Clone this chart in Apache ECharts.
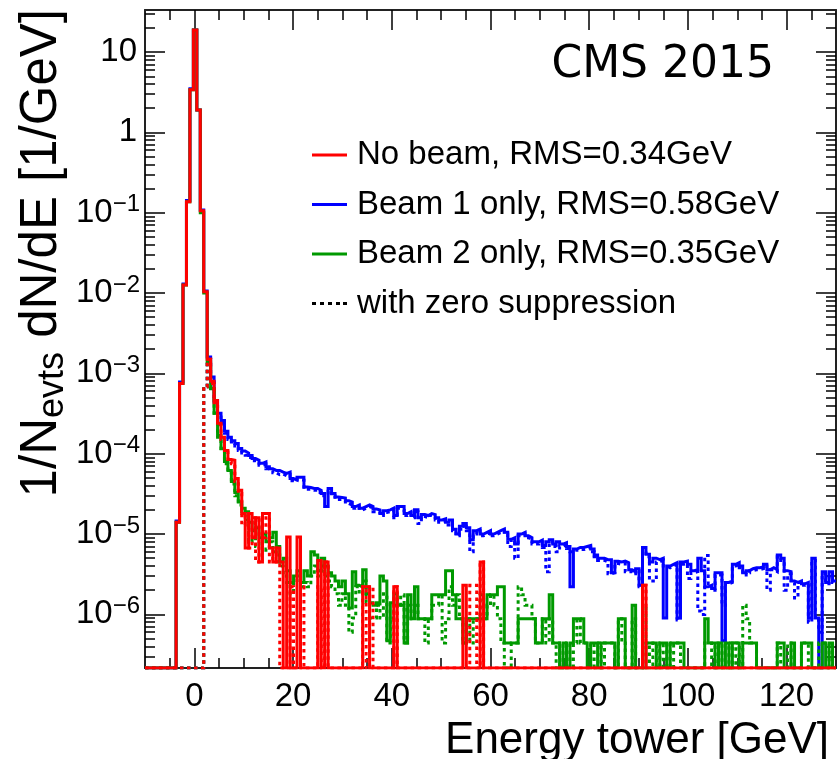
<!DOCTYPE html>
<html lang="en">
<head>
<meta charset="utf-8">
<title>CMS 2015 energy tower spectrum</title>
<script src="https://cdn.jsdelivr.net/npm/echarts@6.0.0/dist/echarts.min.js"></script>
<style>
  html, body { margin: 0; padding: 0; background: #fff; }
  #chart { width: 837px; height: 759px; }
</style>
</head>
<body>
<div id="chart"></div>
<script>
// histogram binning: 200 bins of 0.7 GeV from -10 to 130 GeV
const BIN_LO = -10
const BIN_W = 0.7
const N_BINS = 200

const X_MIN = -10
const X_MAX = 130
const Y_MIN = 2.15e-7
const Y_MAX = 33.4

const xMajorTicks = [0, 20, 40, 60, 80, 100, 120]
const xMinorTicks = [-5, 5, 10, 15, 25, 30, 35, 45, 50, 55, 65, 70, 75, 85, 90, 95, 105, 110, 115, 125]
const yExponents = [-6, -5, -4, -3, -2, -1, 0, 1]

const legendNames = [
  'No beam, RMS=0.34GeV',
  'Beam 1 only, RMS=0.58GeV',
  'Beam 2 only, RMS=0.35GeV',
  'with zero suppression'
]

// 1/N dN/dE per bin (0 = empty bin)
const noBeam = [
  0, 0, 0, 0, 0, 0, 0, 0, 0, 1.4e-5,
  7.5e-4, 1.26e-2, 0.137, 3.4, 18.8, 1.9, 0.106, 1.04e-2, 1.5e-3, 8e-4,
  4.6e-4, 2.4e-4, 1.6e-4, 1.1e-4, 8.5e-5, 8.3e-5, 4.9e-5, 3.5e-5, 1.8e-5, 6.7e-6,
  1.8e-5, 9e-6, 1.6e-5, 4.5e-6, 1.8e-5, 1.8e-5, 6.7e-6, 4.5e-6, 6.7e-6, 4.5e-6,
  0, 9.2e-6, 0, 0, 9.2e-6, 0, 0, 0, 0, 0,
  4.7e-6, 0, 4.5e-6, 0, 0, 0, 0, 0, 0, 0,
  0, 0, 0, 2.2e-6, 2.2e-6, 0, 0, 0, 0, 0,
  0, 0, 2.2e-6, 0, 0, 0, 0, 0, 0, 0,
  0, 0, 0, 0, 0, 0, 0, 0, 0, 0,
  0, 0, 2.3e-6, 0, 0, 0, 0, 4.5e-6, 0, 0,
  0, 0, 0, 0, 0, 0, 0, 0, 0, 0,
  0, 0, 0, 0, 0, 0, 0, 0, 0, 0,
  0, 0, 0, 0, 0, 0, 0, 0, 0, 0,
  0, 0, 0, 0, 0, 0, 0, 0, 0, 0,
  0, 0, 0, 0, 2.3e-6, 0, 0, 0, 0, 0,
  0, 0, 0, 0, 0, 0, 0, 0, 0, 0,
  0, 0, 0, 0, 0, 0, 0, 0, 0, 0,
  0, 0, 0, 0, 0, 0, 0, 0, 0, 0,
  0, 0, 0, 0, 0, 0, 0, 0, 0, 0,
  0, 0, 0, 0, 0, 0, 0, 0, 0, 0
]

const noBeamZS = [
  0, 0, 0, 0, 0, 0, 0, 0, 0, 0,
  0, 0, 0, 0, 0, 0, 0, 6.8e-4, 1.5e-3, 7.5e-4,
  4.3e-4, 2.3e-4, 1.5e-4, 1.05e-4, 8e-5, 7.5e-5, 4.5e-5, 3.2e-5, 1.3e-5, 1.8e-5,
  6.7e-6, 1.6e-5, 4.5e-6, 1.6e-5, 9e-6, 1.8e-5, 4.5e-6, 6.7e-6, 4.5e-6, 0,
  0, 0, 2.2e-6, 0, 0, 2.2e-6, 0, 0, 0, 0,
  2.2e-6, 0, 4.5e-6, 0, 0, 0, 0, 0, 0, 0,
  0, 0, 0, 2.2e-6, 0, 2.2e-6, 0, 0, 0, 0,
  0, 0, 2.2e-6, 0, 0, 0, 0, 0, 0, 0,
  0, 0, 0, 0, 0, 0, 0, 0, 0, 0,
  0, 0, 0, 0, 2.3e-6, 2.3e-6, 0, 4.5e-6, 0, 0,
  0, 0, 0, 0, 0, 0, 0, 0, 0, 0,
  0, 0, 0, 0, 0, 0, 0, 0, 0, 0,
  0, 0, 0, 0, 0, 0, 0, 0, 0, 0,
  0, 0, 0, 0, 0, 0, 0, 0, 0, 0,
  0, 0, 0, 0, 2.3e-6, 0, 0, 0, 0, 0,
  0, 0, 0, 0, 0, 0, 0, 0, 0, 0,
  0, 0, 0, 0, 0, 0, 0, 0, 0, 0,
  0, 0, 0, 0, 0, 0, 0, 0, 0, 0,
  0, 0, 0, 0, 0, 0, 0, 0, 0, 0,
  0, 0, 0, 0, 0, 0, 0, 0, 0, 0
]

const beam1 = [
  0, 0, 0, 0, 0, 0, 0, 0, 0, 1.45e-5,
  7.8e-4, 1.3e-2, 0.142, 3.5, 18.8, 1.9, 0.108, 1.06e-2, 1.6e-3, 9e-4,
  4.6e-4, 3.2e-4, 2.6e-4, 1.9e-4, 1.6e-4, 1.45e-4, 1.34e-4, 1.16e-4, 1.08e-4, 1.02e-4,
  9.5e-5, 8.7e-5, 8.3e-5, 7.6e-5, 7.9e-5, 6.9e-5, 6.5e-5, 6.2e-5, 6.2e-5, 5.9e-5,
  5.7e-5, 5.9e-5, 4.9e-5, 4.7e-5, 5.1e-5, 5.1e-5, 3.85e-5, 3.8e-5, 3.7e-5, 3.7e-5,
  3.5e-5, 3.2e-5, 2.2e-5, 3.7e-5, 3.2e-5, 2.9e-5, 2.85e-5, 2.8e-5, 2.6e-5, 2.5e-5,
  2.2e-5, 2.3e-5, 2.1e-5, 2.2e-5, 2.3e-5, 2.2e-5, 2.05e-5, 2e-5, 1.8e-5, 1.95e-5,
  2e-5, 2.1e-5, 1.7e-5, 2.2e-5, 2.2e-5, 1.8e-5, 1.9e-5, 1.7e-5, 2e-5, 1.6e-5,
  1.75e-5, 1.7e-5, 1.8e-5, 1.75e-5, 1.6e-5, 1.5e-5, 1.55e-5, 1.4e-5, 1.5e-5, 1.15e-5,
  1e-5, 1.25e-5, 1.35e-5, 1.2e-5, 8.5e-6, 1.1e-5, 1.15e-5, 1e-5, 1.05e-5, 1.1e-5,
  1e-5, 1.05e-5, 1.1e-5, 1.15e-5, 1.05e-5, 8.6e-6, 9e-6, 7.5e-6, 1e-5, 1.05e-5,
  9.5e-6, 9e-6, 8e-6, 8e-6, 8.4e-6, 7.2e-6, 8e-6, 8.5e-6, 7.5e-6, 8e-6,
  7.5e-6, 7.8e-6, 7e-6, 2.2e-6, 6.5e-6, 6.8e-6, 6.8e-6, 7e-6, 7.2e-6, 6.5e-6,
  5.5e-6, 5e-6, 5e-6, 4.8e-6, 4.8e-6, 3.3e-6, 4.6e-6, 4.5e-6, 4.6e-6, 4.4e-6,
  3.6e-6, 3.4e-6, 3.7e-6, 2.3e-6, 6.8e-6, 5.6e-6, 4.5e-6, 5e-6, 4.8e-6, 5e-6,
  9e-7, 4e-6, 4.2e-6, 4.4e-6, 9e-7, 4.5e-6, 4.6e-6, 4.2e-6, 3.5e-6, 3.6e-6,
  5e-6, 3.5e-6, 2.2e-6, 2.3e-6, 2.1e-6, 3.3e-6, 3.3e-6, 4.7e-7, 2.5e-6, 2.6e-6,
  4.2e-6, 4.4e-6, 4e-6, 3.3e-6, 3.5e-6, 3.7e-6, 3.8e-6, 3.8e-6, 3.9e-6, 4.2e-6,
  3.6e-6, 3.8e-6, 3.6e-6, 5.5e-6, 5e-6, 3.5e-6, 3.4e-6, 2.6e-6, 2.5e-6, 2.6e-6,
  2.4e-6, 2.5e-6, 9e-7, 5e-6, 9e-7, 0, 3.4e-6, 2.5e-6, 3.4e-6, 2.6e-6
]

const beam1ZS = [
  0, 0, 0, 0, 0, 0, 0, 0, 0, 0,
  0, 0, 0, 0, 0, 0, 0, 6.8e-4, 1.5e-3, 8.5e-4,
  4.4e-4, 3e-4, 2.4e-4, 1.8e-4, 1.5e-4, 1.4e-4, 1.25e-4, 1.1e-4, 1.02e-4, 9.6e-5,
  9e-5, 8.2e-5, 7.9e-5, 7.2e-5, 7.4e-5, 6.5e-5, 6.2e-5, 5.8e-5, 5.5e-5, 5.6e-5,
  5.3e-5, 5.5e-5, 4.6e-5, 4.5e-5, 4.8e-5, 4.7e-5, 3.6e-5, 3.6e-5, 3.5e-5, 3.5e-5,
  3.3e-5, 3e-5, 3e-5, 3.4e-5, 3e-5, 2.7e-5, 2.7e-5, 2.6e-5, 2.4e-5, 2.3e-5,
  2.1e-5, 2.2e-5, 2e-5, 2.1e-5, 2.2e-5, 2.1e-5, 1.9e-5, 1.9e-5, 1.7e-5, 1.85e-5,
  1.9e-5, 2e-5, 1.6e-5, 2.1e-5, 2e-5, 1.7e-5, 1.8e-5, 1.6e-5, 1.9e-5, 1.35e-5,
  1.65e-5, 1.6e-5, 1.7e-5, 1.65e-5, 1.5e-5, 1.4e-5, 1.45e-5, 1.3e-5, 1.4e-5, 1.1e-5,
  9.5e-6, 1.15e-5, 1.25e-5, 1.1e-5, 6e-6, 1e-5, 1.1e-5, 9.5e-6, 1e-5, 1.05e-5,
  9.5e-6, 1e-5, 1.05e-5, 1.1e-5, 1e-5, 7e-6, 8.5e-6, 5e-6, 9.5e-6, 1e-5,
  9e-6, 8.5e-6, 7.5e-6, 7.5e-6, 8e-6, 6.8e-6, 3.4e-6, 8e-6, 7e-6, 6e-6,
  7e-6, 7.4e-6, 6.6e-6, 6e-6, 6e-6, 6.4e-6, 6.4e-6, 6.6e-6, 6.8e-6, 6e-6,
  5.2e-6, 4.7e-6, 4.7e-6, 4.5e-6, 3.2e-6, 3.3e-6, 4.3e-6, 4.2e-6, 4.3e-6, 3.4e-6,
  3.4e-6, 3.2e-6, 3.5e-6, 2.2e-6, 6.4e-6, 5.2e-6, 2.6e-6, 2.6e-6, 4.5e-6, 4.7e-6,
  4e-6, 3.8e-6, 4e-6, 4.2e-6, 8.5e-7, 4.2e-6, 4.3e-6, 2.8e-6, 3.3e-6, 3.4e-6,
  1.1e-6, 1e-6, 5.4e-6, 2.2e-6, 2e-6, 3.1e-6, 3.1e-6, 1.3e-6, 2.4e-6, 2.5e-6,
  4e-6, 4.2e-6, 3.8e-6, 3.1e-6, 3.3e-6, 3.5e-6, 3.6e-6, 3.6e-6, 3.7e-6, 4e-6,
  2e-6, 3.6e-6, 3.4e-6, 5.2e-6, 4.7e-6, 2e-6, 3.2e-6, 2.5e-6, 1.6e-6, 2.5e-6,
  2.3e-6, 2.4e-6, 8e-7, 4.7e-6, 8.5e-7, 6e-7, 3.2e-6, 2.4e-6, 3.2e-6, 2.5e-6
]

const beam2 = [
  0, 0, 0, 0, 0, 0, 0, 0, 0, 1.4e-5,
  7.5e-4, 1.26e-2, 0.137, 3.4, 18.8, 1.9, 0.1, 1e-2, 1.4e-3, 6.5e-4,
  3.2e-4, 1.7e-4, 1.15e-4, 8e-5, 6.2e-5, 4.5e-5, 3.3e-5, 2.5e-5, 2.1e-5, 1.9e-5,
  1.4e-5, 1.1e-5, 1.2e-5, 9e-6, 1e-5, 8e-6, 9e-6, 1.05e-5, 7e-6, 4.5e-6,
  5e-6, 3.5e-6, 2.5e-6, 3e-6, 3.5e-6, 2.5e-6, 3.5e-6, 3e-6, 6e-6, 5.5e-6,
  3.5e-6, 5e-6, 4e-6, 3.3e-6, 3e-6, 2.6e-6, 2.2e-6, 2.6e-6, 1.8e-6, 1.2e-6,
  3.4e-6, 2.3e-6, 2.2e-6, 3.6e-6, 1.8e-6, 1.4e-6, 1.3e-6, 1.4e-6, 3e-6, 2.6e-6,
  4.7e-7, 1.4e-6, 1.8e-6, 1.3e-6, 1.3e-6, 4.4e-7, 1.75e-6, 8.8e-7, 2.2e-6, 8.8e-7,
  8.8e-7, 8.8e-7, 8.8e-7, 1.75e-6, 1.75e-6, 1.75e-6, 1.75e-6, 3.5e-6, 3.5e-6, 1.75e-6,
  8.8e-7, 8.8e-7, 4.4e-7, 8.8e-7, 8.8e-7, 8.8e-7, 8.8e-7, 8.8e-7, 8.8e-7, 1.75e-6,
  1.75e-6, 1.75e-6, 2.2e-6, 2.2e-6, 4.4e-7, 4.4e-7, 4.4e-7, 4.4e-7, 8.8e-7, 8.8e-7,
  8.8e-7, 8.8e-7, 8.8e-7, 4.4e-7, 4.4e-7, 8.8e-7, 8.8e-7, 1.75e-6, 4.4e-7, 4.4e-7,
  0, 4.4e-7, 0, 4.4e-7, 8.8e-7, 8.8e-7, 8.8e-7, 4.4e-7, 0, 4.4e-7,
  4.4e-7, 0, 4.4e-7, 4.4e-7, 4.4e-7, 4.4e-7, 0, 8.8e-7, 8.8e-7, 0,
  0, 1.3e-6, 0, 0, 0, 4.4e-7, 4.4e-7, 4.4e-7, 0, 4.4e-7,
  4.4e-7, 0, 4.4e-7, 4.4e-7, 4.4e-7, 4.4e-7, 0, 0, 0, 0,
  0, 0, 8.8e-7, 4.4e-7, 4.4e-7, 0, 4.4e-7, 0, 4.4e-7, 0,
  4.4e-7, 4.4e-7, 0, 4.4e-7, 4.4e-7, 4.4e-7, 4.4e-7, 0, 0, 0,
  0, 0, 0, 4.4e-7, 4.4e-7, 0, 0, 4.4e-7, 0, 0,
  4.4e-7, 4.4e-7, 4.4e-7, 0, 0, 0, 4.4e-7, 0, 4.4e-7, 0
]

const beam2ZS = [
  0, 0, 0, 0, 0, 0, 0, 0, 0, 0,
  0, 0, 0, 0, 0, 0, 0, 6.8e-4, 1.3e-3, 6e-4,
  3e-4, 1.6e-4, 1.1e-4, 7.5e-5, 5.8e-5, 4.2e-5, 3e-5, 2.3e-5, 1.9e-5, 1.5e-5,
  8e-6, 9e-6, 7e-6, 8e-6, 6e-6, 6.5e-6, 8e-6, 6e-6, 5.5e-6, 4e-6,
  3e-6, 2.5e-6, 1.8e-6, 2.5e-6, 3e-6, 2.2e-6, 2.5e-6, 2.2e-6, 3e-6, 4e-6,
  3e-6, 4e-6, 3e-6, 2.6e-6, 2.2e-6, 1.8e-6, 1.3e-6, 1.8e-6, 1.3e-6, 6e-7,
  9e-7, 2.2e-6, 1.8e-6, 2.6e-6, 1.4e-6, 9e-7, 9e-7, 1.3e-6, 9e-7, 1.8e-6,
  4.4e-7, 9e-7, 1.3e-6, 1.3e-6, 1.75e-6, 4.4e-7, 1.3e-6, 8.8e-7, 1.3e-6, 8.8e-7,
  8.8e-7, 4.4e-7, 8.8e-7, 1.3e-6, 1.3e-6, 1.75e-6, 4.4e-7, 8.8e-7, 2.2e-6, 1.3e-6,
  1.75e-6, 8.8e-7, 4.4e-7, 8.8e-7, 4.4e-7, 8.8e-7, 8.8e-7, 1.75e-6, 8.8e-7, 1.3e-6,
  1.75e-6, 1.3e-6, 8.8e-7, 4.4e-7, 0, 0, 4.4e-7, 4.4e-7, 2.2e-6, 1.75e-6,
  1.3e-6, 1.3e-6, 8.8e-7, 4.4e-7, 4.4e-7, 8.8e-7, 4.4e-7, 8.8e-7, 4.4e-7, 0,
  4.4e-7, 0, 4.4e-7, 0, 4.4e-7, 8.8e-7, 4.4e-7, 4.4e-7, 4.4e-7, 0,
  4.4e-7, 4.4e-7, 0, 4.4e-7, 4.4e-7, 4.4e-7, 0, 8.8e-7, 4.4e-7, 0,
  0, 8.8e-7, 0, 0, 1.3e-6, 4.4e-7, 0, 4.4e-7, 0, 4.4e-7,
  0, 4.4e-7, 0, 4.4e-7, 4.4e-7, 0, 0, 0, 0, 0,
  0, 0, 4.4e-7, 4.4e-7, 0, 4.4e-7, 4.4e-7, 0, 0, 4.4e-7,
  0, 4.4e-7, 0, 1.3e-6, 8.8e-7, 4.4e-7, 4.4e-7, 0, 0, 0,
  0, 0, 0, 4.4e-7, 0, 0, 4.4e-7, 0, 0, 0,
  4.4e-7, 4.4e-7, 0, 0, 0, 4.4e-7, 4.4e-7, 4.4e-7, 0, 4.4e-7
]

const FONT = "'Liberation Sans', Arial, Helvetica, sans-serif"
const RED = '#ff0000'
const BLUE = '#0000ff'
const GREEN = '#009900'

// minor log ticks 2..9 x decade inside the axis range
const yMajorTicks = yExponents.map(e => Math.pow(10, e))
const yMinorTicks = []
for (let e = -7; e <= 1; e++) {
  for (let m = 2; m <= 9; m++) {
    const v = Number((m * Math.pow(10, e)).toPrecision(3))
    if (v > Y_MIN && v < Y_MAX) yMinorTicks.push(v)
  }
}

// empty bins are drawn on the bottom edge of the frame, like ROOT does on a log axis
const histData = vals => {
  const pts = vals.map((v, k) => [BIN_LO + k * BIN_W, v > 0 ? v : Y_MIN])
  const last = vals[N_BINS - 1]
  pts.push([BIN_LO + N_BINS * BIN_W, last > 0 ? last : Y_MIN])
  return pts
}

const hist = (name, vals, color, dashed) => ({
  name,
  type: 'line',
  step: 'end',
  data: histData(vals),
  xAxisIndex: 0,
  yAxisIndex: 0,
  symbol: 'none',
  color,
  clip: true,
  silent: true,
  lineStyle: { color, width: 3, type: dashed ? [3.5, 3.5] : 'solid', cap: 'butt', join: 'miter' }
})

const yLabelText = v => {
  const e = Math.round(Math.log10(v))
  if (e === 0) return '{n|1}'
  if (e === 1) return '{n|10}'
  return '{b|10}{s|\u2212' + (-e) + '}'
}

const frameLine = { show: true, onZero: false, lineStyle: { color: '#222', width: 2 } }
const noLine = { show: false, onZero: false }

const xAxisDef = (position, ticks, len, withLabels) => ({
  type: 'value',
  min: X_MIN,
  max: X_MAX,
  position,
  axisLine: len > 15 ? frameLine : noLine,
  axisTick: { show: true, inside: true, length: len, customValues: ticks, lineStyle: { color: '#000', width: 1.5 } },
  axisLabel: withLabels
    ? { show: true, customValues: ticks, margin: 12, color: '#000', fontFamily: FONT, fontSize: 33 }
    : { show: false },
  splitLine: { show: false },
  minorTick: { show: false }
})

const yAxisDef = (position, ticks, len, withLabels) => ({
  type: 'log',
  logBase: 10,
  min: Y_MIN,
  max: Y_MAX,
  position,
  axisLine: len > 15 ? frameLine : noLine,
  axisTick: { show: true, inside: true, length: len, customValues: ticks, lineStyle: { color: '#000', width: 1.5 } },
  axisLabel: withLabels
    ? {
        show: true,
        customValues: ticks,
        margin: 5,
        formatter: yLabelText,
        color: '#000',
        fontFamily: FONT,
        rich: {
          n: { fontSize: 33, fontFamily: FONT, color: '#000', lineHeight: 40, padding: [0, 3, 0, 0] },
          b: { fontSize: 33, fontFamily: FONT, color: '#000', lineHeight: 40 },
          s: { fontSize: 24, fontFamily: FONT, color: '#000', lineHeight: 19, verticalAlign: 'top' }
        }
      }
    : { show: false },
  splitLine: { show: false },
  minorTick: { show: false }
})

const chart = echarts.init(document.getElementById('chart'), null, { renderer: 'canvas' })

chart.setOption({
  animation: false,
  backgroundColor: '#fff',
  grid: { left: 145, right: 1, top: 10, bottom: 91, containLabel: false, outerBoundsMode: 'none' },
  title: {
    text: 'CMS 2015',
    right: 63,
    top: 44,
    padding: 0,
    textStyle: { fontFamily: "'DejaVu Sans', sans-serif", fontSize: 44, fontWeight: 'normal', color: '#000', lineHeight: 44 }
  },
  legend: {
    orient: 'vertical',
    left: 307,
    top: 130,
    itemWidth: 35,
    itemHeight: 3,
    itemGap: 9.5,
    selectedMode: false,
    textStyle: { fontFamily: FONT, fontSize: 33, color: '#000', lineHeight: 40, padding: [0, 0, 0, 5] },
    data: [
      { name: legendNames[0], icon: 'rect' },
      { name: legendNames[1], icon: 'rect' },
      { name: legendNames[2], icon: 'rect' },
      { name: legendNames[3], icon: 'path://M0,0h4v3h-4zM8,0h4v3h-4zM16,0h4v3h-4zM24,0h4v3h-4zM31,0h4v3h-4z' }
    ]
  },
  xAxis: [
    xAxisDef('bottom', xMajorTicks, 20, true),
    xAxisDef('bottom', xMinorTicks, 10, false),
    xAxisDef('top', xMajorTicks, 20, false),
    xAxisDef('top', xMinorTicks, 10, false)
  ],
  yAxis: [
    yAxisDef('left', yMajorTicks, 20, true),
    yAxisDef('left', yMinorTicks, 10, false),
    yAxisDef('right', yMajorTicks, 20, false),
    yAxisDef('right', yMinorTicks, 10, false)
  ],
  graphic: [
    {
      type: 'text',
      x: 42,
      y: 9,
      rotation: Math.PI / 2,
      silent: true,
      style: {
        text: '1/N{sub|evts} dN/dE [1/GeV]',
        fontFamily: FONT,
        fontSize: 51,
        lineHeight: 58,
        fill: '#000',
        align: 'right',
        verticalAlign: 'middle',
        rich: {
          sub: { fontFamily: FONT, fontSize: 36, lineHeight: 31, verticalAlign: 'bottom', fill: '#000' }
        }
      }
    },
    {
      type: 'text',
      x: 829,
      y: 741,
      silent: true,
      style: {
        text: 'Energy tower [GeV]',
        fontFamily: FONT,
        fontSize: 44,
        fill: '#000',
        align: 'right',
        verticalAlign: 'middle'
      }
    }
  ],
  series: [
    hist(legendNames[1], beam1, BLUE, false),
    hist('Beam 1 only (zero suppression)', beam1ZS, BLUE, true),
    hist(legendNames[2], beam2, GREEN, false),
    hist('Beam 2 only (zero suppression)', beam2ZS, GREEN, true),
    hist(legendNames[0], noBeam, RED, false),
    hist('No beam (zero suppression)', noBeamZS, RED, true),
    {
      name: legendNames[3],
      type: 'line',
      data: [],
      symbol: 'none',
      color: '#000',
      lineStyle: { color: '#000', width: 3, type: [3.5, 3.5] }
    }
  ]
})
</script>
</body>
</html>
